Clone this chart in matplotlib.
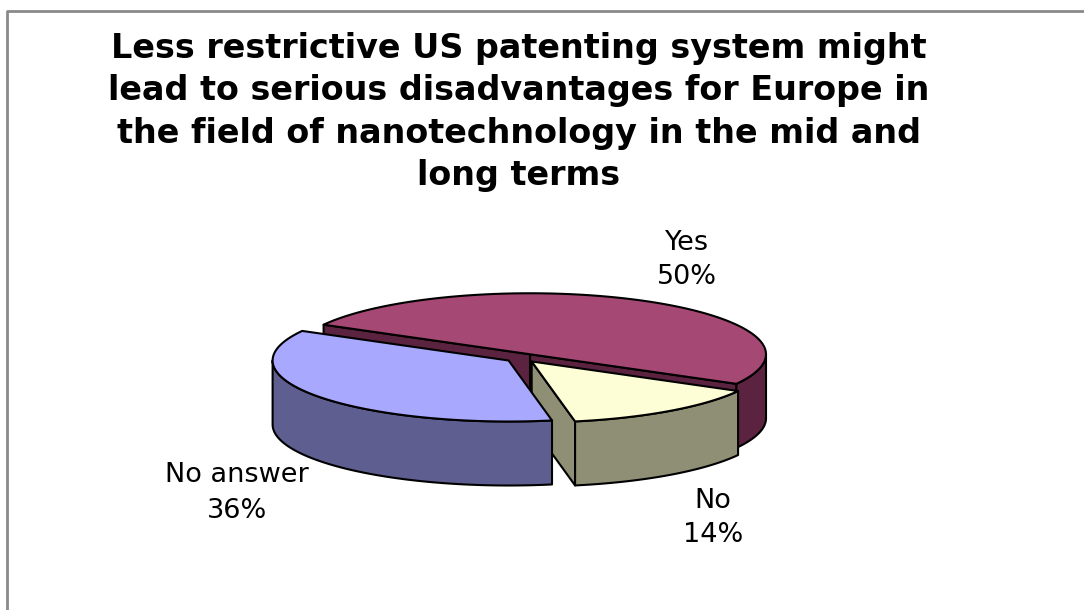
import numpy as np
import matplotlib.pyplot as plt
from matplotlib.patches import Polygon

# survey answers
labels = ["Yes", "No", "No answer"]
shares = [50, 14, 36]
top_colors = ["#A54974", "#FDFDD6", "#A8A8FF"]
side_colors = ["#5C2341", "#8F8F75", "#5E5E91"]

title = ("Less restrictive US patenting system might\n"
         "lead to serious disadvantages for Europe in\n"
         "the field of nanotechnology in the mid and\n"
         "long terms")

# pie geometry in pixel units
cx, cy = 522, 358
a, b = 236, 61
h = 64
start = 151
explode = 0.07

fig = plt.figure(figsize=(10.84, 6.10), dpi=100)
ax = fig.add_axes([0, 0, 1, 1])
ax.set_xlim(0, 1084)
ax.set_ylim(610, 0)
ax.axis("off")

# frame (left and top edges only)
ax.plot([7, 7, 1084], [610, 11, 11], color="#8a8a8a", lw=2, solid_capstyle="butt")


def pt(x0, y0, t, dz=0):
    r = np.radians(t)
    return x0 + a * np.cos(r), y0 - b * np.sin(r) + dz


def arc(x0, y0, t0, t1, dz=0):
    ts = np.linspace(t0, t1, 80)
    r = np.radians(ts)
    return np.column_stack([x0 + a * np.cos(r), y0 - b * np.sin(r) + dz])


def poly(pts, fc):
    ax.add_patch(Polygon(pts, closed=True, fc=fc, ec="black", lw=1.5, joinstyle="round"))


slices = []
t_hi = start
for lab, v, tc, sc in zip(labels, shares, top_colors, side_colors):
    t_lo = t_hi - v * 3.6
    mid = np.radians((t_lo + t_hi) / 2)
    ox = cx + explode * a * np.cos(mid)
    oy = cy - explode * b * np.sin(mid)
    slices.append((lab, t_lo, t_hi, ox, oy, tc, sc))
    t_hi = t_lo

# back slice first, then the front ones
for idx in [0, 1, 2]:
    lab, t_lo, t_hi, ox, oy, tc, sc = slices[idx]
    # radial cut faces
    for t, show in [(t_lo, np.cos(np.radians(t_lo)) > 0),
                    (t_hi, np.cos(np.radians(t_hi)) < 0)]:
        if show:
            ex, ey = pt(ox, oy, t)
            poly([(ox, oy), (ex, ey), (ex, ey + h), (ox, oy + h)], sc)
    # curved outer wall, front half only
    for k in range(-2, 2):
        lo = max(t_lo, -180 + 360 * k)
        hi = min(t_hi, 0 + 360 * k)
        if hi > lo:
            top = arc(ox, oy, lo, hi)
            bot = arc(ox, oy, hi, lo, h)
            poly(np.vstack([top, bot]), sc)
    # top face
    poly(np.vstack([[(ox, oy)], arc(ox, oy, t_lo, t_hi)]), tc)

ax.text(519, 112, title, ha="center", va="center", fontsize=24,
        fontweight="bold", linespacing=1.36, color="black")

label_pos = {"Yes": (687, 260), "No": (713, 518), "No answer": (237, 493)}
for lab, v in zip(labels, shares):
    x, y = label_pos[lab]
    ax.text(x, y, f"{lab}\n{v}%", ha="center", va="center", fontsize=19.5,
            linespacing=1.45, color="black")

fig.savefig("out.png", dpi=100)
